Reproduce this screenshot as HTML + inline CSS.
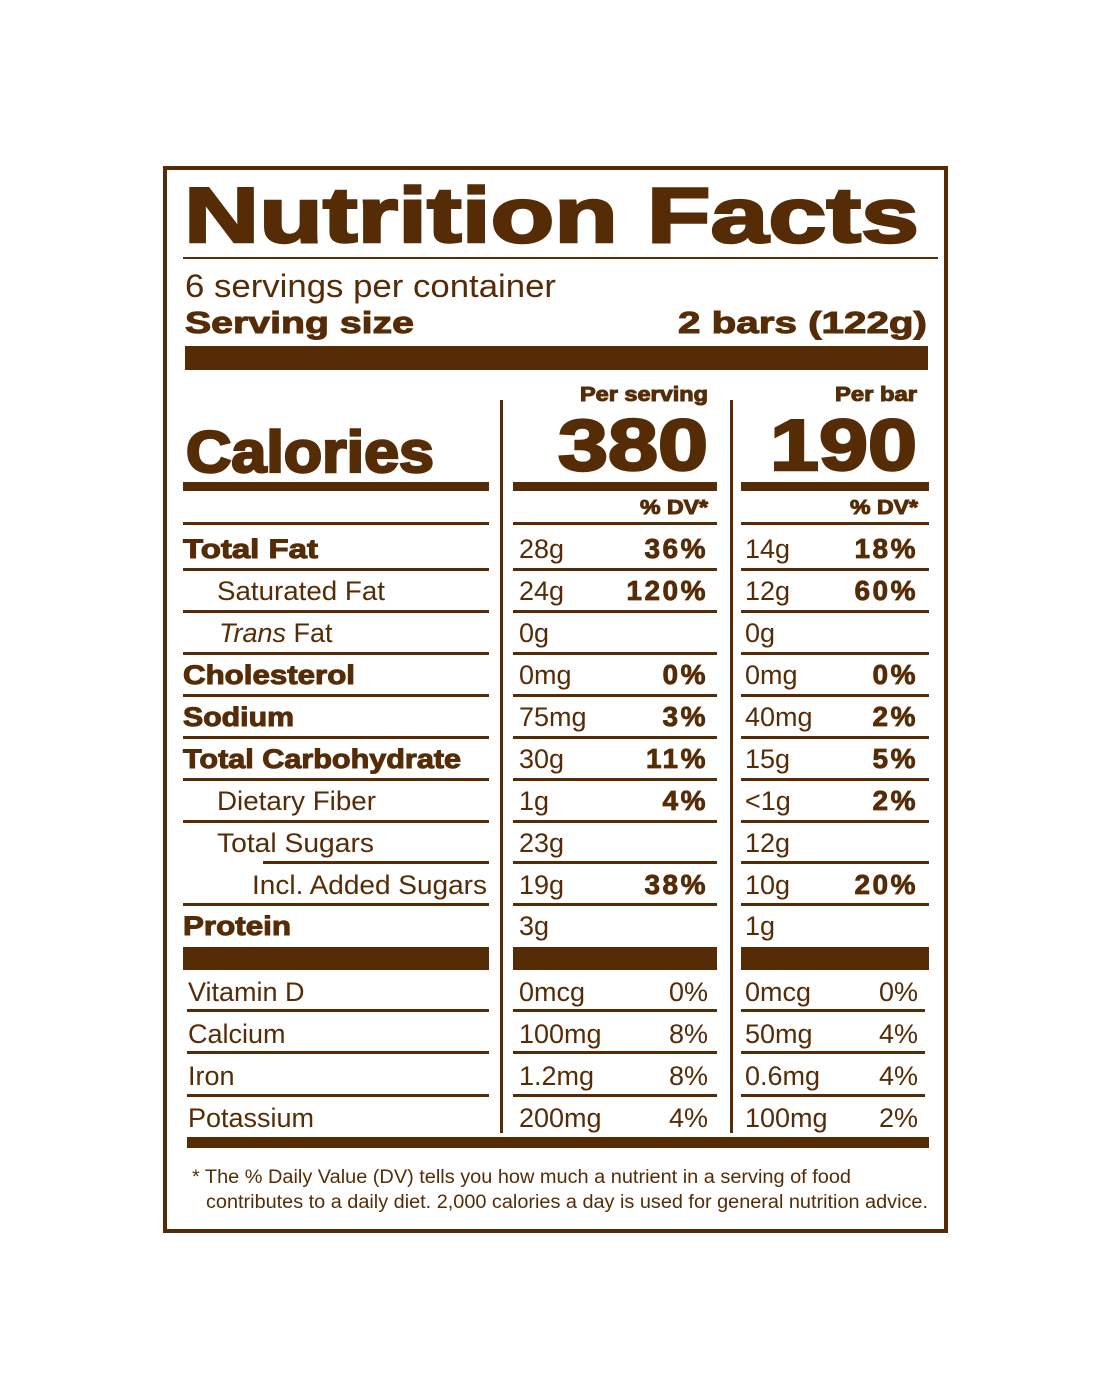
<!DOCTYPE html>
<html><head><style>html,body{margin:0;padding:0;background:#fff}svg{display:block}.b{stroke:#562c06;stroke-width:1}.h{stroke:#562c06;stroke-width:2.5}.p{font-weight:bold;letter-spacing:2.5px;font-size:28px;stroke:#562c06;stroke-width:0.8}</style></head><body>
<svg width="1111" height="1400" viewBox="0 0 1111 1400" xmlns="http://www.w3.org/2000/svg" font-family="Liberation Sans, Arial, sans-serif" fill="#562c06">
<rect x="165" y="168" width="781" height="1063" fill="none" stroke="#562c06" stroke-width="4"/>
<text class="h" x="184" y="242" font-size="78" font-weight="bold" textLength="735" lengthAdjust="spacingAndGlyphs">Nutrition Facts</text>
<rect x="183" y="257" width="755" height="2"/>
<text x="185" y="297" font-size="32" textLength="371" lengthAdjust="spacingAndGlyphs">6 servings per container</text>
<text class="b" x="185" y="333" font-size="31" font-weight="bold" textLength="229" lengthAdjust="spacingAndGlyphs">Serving size</text>
<text class="b" x="678" y="333" font-size="31" font-weight="bold" textLength="249" lengthAdjust="spacingAndGlyphs">2 bars (122g)</text>
<rect x="185" y="346" width="743" height="24"/>
<rect x="500" y="400" width="3" height="733"/>
<rect x="730" y="400" width="3" height="733"/>
<text class="b" x="580" y="401" font-size="20" font-weight="bold" textLength="128" lengthAdjust="spacingAndGlyphs">Per serving</text>
<text class="b" x="835" y="401" font-size="20" font-weight="bold" textLength="82" lengthAdjust="spacingAndGlyphs">Per bar</text>
<text class="h" x="558" y="470" font-size="72" font-weight="bold" textLength="150" lengthAdjust="spacingAndGlyphs">380</text>
<text class="h" x="770" y="470" font-size="72" font-weight="bold" textLength="147" lengthAdjust="spacingAndGlyphs">190</text>
<text class="h" x="186" y="472" font-size="58" font-weight="bold" textLength="248" lengthAdjust="spacingAndGlyphs">Calories</text>
<rect x="183" y="482" width="306" height="9"/><rect x="513" y="482" width="204" height="9"/><rect x="741" y="482" width="188" height="9"/>
<text class="b" x="640" y="514" font-size="20" font-weight="bold" textLength="68" lengthAdjust="spacingAndGlyphs">% DV*</text>
<text class="b" x="850" y="514" font-size="20" font-weight="bold" textLength="68" lengthAdjust="spacingAndGlyphs">% DV*</text>
<rect x="183" y="522" width="306" height="3"/><rect x="513" y="522" width="204" height="3"/><rect x="741" y="522" width="188" height="3"/>
<g font-size="27">
<text class="b" x="183" y="558" font-weight="bold" textLength="135" lengthAdjust="spacingAndGlyphs">Total Fat</text>
<text x="519" y="558">28g</text><text class="p" x="708" y="558" text-anchor="end">36%</text>
<text x="745" y="558">14g</text><text class="p" x="918" y="558" text-anchor="end">18%</text>
<rect x="183" y="568" width="306" height="3"/><rect x="513" y="568" width="204" height="3"/><rect x="741" y="568" width="188" height="3"/>

<text x="217" y="600" textLength="168" lengthAdjust="spacingAndGlyphs">Saturated Fat</text>
<text x="519" y="600">24g</text><text class="p" x="708" y="600" text-anchor="end">120%</text>
<text x="745" y="600">12g</text><text class="p" x="918" y="600" text-anchor="end">60%</text>
<rect x="183" y="610" width="306" height="3"/><rect x="513" y="610" width="204" height="3"/><rect x="741" y="610" width="188" height="3"/>

<text x="219" y="642"><tspan font-style="italic">Trans</tspan> Fat</text>
<text x="519" y="642">0g</text>
<text x="745" y="642">0g</text>
<rect x="183" y="652" width="306" height="3"/><rect x="513" y="652" width="204" height="3"/><rect x="741" y="652" width="188" height="3"/>

<text class="b" x="183" y="684" font-weight="bold" textLength="172" lengthAdjust="spacingAndGlyphs">Cholesterol</text>
<text x="519" y="684">0mg</text><text class="p" x="708" y="684" text-anchor="end">0%</text>
<text x="745" y="684">0mg</text><text class="p" x="918" y="684" text-anchor="end">0%</text>
<rect x="183" y="694" width="306" height="3"/><rect x="513" y="694" width="204" height="3"/><rect x="741" y="694" width="188" height="3"/>

<text class="b" x="183" y="726" font-weight="bold" textLength="111" lengthAdjust="spacingAndGlyphs">Sodium</text>
<text x="519" y="726">75mg</text><text class="p" x="708" y="726" text-anchor="end">3%</text>
<text x="745" y="726">40mg</text><text class="p" x="918" y="726" text-anchor="end">2%</text>
<rect x="183" y="736" width="306" height="3"/><rect x="513" y="736" width="204" height="3"/><rect x="741" y="736" width="188" height="3"/>

<text class="b" x="183" y="768" font-weight="bold" textLength="278" lengthAdjust="spacingAndGlyphs">Total Carbohydrate</text>
<text x="519" y="768">30g</text><text class="p" x="708" y="768" text-anchor="end">11%</text>
<text x="745" y="768">15g</text><text class="p" x="918" y="768" text-anchor="end">5%</text>
<rect x="183" y="778" width="306" height="3"/><rect x="513" y="778" width="204" height="3"/><rect x="741" y="778" width="188" height="3"/>

<text x="217" y="810" textLength="159" lengthAdjust="spacingAndGlyphs">Dietary Fiber</text>
<text x="519" y="810">1g</text><text class="p" x="708" y="810" text-anchor="end">4%</text>
<text x="745" y="810">&lt;1g</text><text class="p" x="918" y="810" text-anchor="end">2%</text>
<rect x="183" y="820" width="306" height="3"/><rect x="513" y="820" width="204" height="3"/><rect x="741" y="820" width="188" height="3"/>

<text x="217" y="852" textLength="157" lengthAdjust="spacingAndGlyphs">Total Sugars</text>
<text x="519" y="852">23g</text>
<text x="745" y="852">12g</text>
<rect x="263" y="861" width="226" height="3"/><rect x="513" y="861" width="204" height="3"/><rect x="741" y="861" width="188" height="3"/>

<text x="252" y="894" textLength="235" lengthAdjust="spacingAndGlyphs">Incl. Added Sugars</text>
<text x="519" y="894">19g</text><text class="p" x="708" y="894" text-anchor="end">38%</text>
<text x="745" y="894">10g</text><text class="p" x="918" y="894" text-anchor="end">20%</text>
<rect x="183" y="903" width="306" height="3"/><rect x="513" y="903" width="204" height="3"/><rect x="741" y="903" width="188" height="3"/>

<text class="b" x="183" y="935" font-weight="bold" textLength="108" lengthAdjust="spacingAndGlyphs">Protein</text>
<text x="519" y="935">3g</text>
<text x="745" y="935">1g</text>
<rect x="183" y="947" width="306" height="23"/><rect x="513" y="947" width="204" height="23"/><rect x="741" y="947" width="188" height="23"/>

<text x="188" y="1001">Vitamin D</text>
<text x="519" y="1001">0mcg</text><text x="708" y="1001" text-anchor="end">0%</text>
<text x="745" y="1001">0mcg</text><text x="918" y="1001" text-anchor="end">0%</text>
<rect x="187" y="1009" width="302" height="3"/><rect x="513" y="1009" width="204" height="3"/><rect x="741" y="1009" width="184" height="3"/>

<text x="188" y="1043">Calcium</text>
<text x="519" y="1043">100mg</text><text x="708" y="1043" text-anchor="end">8%</text>
<text x="745" y="1043">50mg</text><text x="918" y="1043" text-anchor="end">4%</text>
<rect x="187" y="1051" width="302" height="3"/><rect x="513" y="1051" width="204" height="3"/><rect x="741" y="1051" width="184" height="3"/>

<text x="188" y="1085">Iron</text>
<text x="519" y="1085">1.2mg</text><text x="708" y="1085" text-anchor="end">8%</text>
<text x="745" y="1085">0.6mg</text><text x="918" y="1085" text-anchor="end">4%</text>
<rect x="187" y="1094" width="302" height="3"/><rect x="513" y="1094" width="204" height="3"/><rect x="741" y="1094" width="184" height="3"/>

<text x="188" y="1127">Potassium</text>
<text x="519" y="1127">200mg</text><text x="708" y="1127" text-anchor="end">4%</text>
<text x="745" y="1127">100mg</text><text x="918" y="1127" text-anchor="end">2%</text>
</g>
<rect x="187" y="1137" width="742" height="11"/>
<text x="192" y="1183" font-size="19" textLength="659" lengthAdjust="spacingAndGlyphs">* The % Daily Value (DV) tells you how much a nutrient in a serving of food</text>
<text x="206" y="1208" font-size="19" textLength="722" lengthAdjust="spacingAndGlyphs">contributes to a daily diet. 2,000 calories a day is used for general nutrition advice.</text>
</svg>
</body></html>
